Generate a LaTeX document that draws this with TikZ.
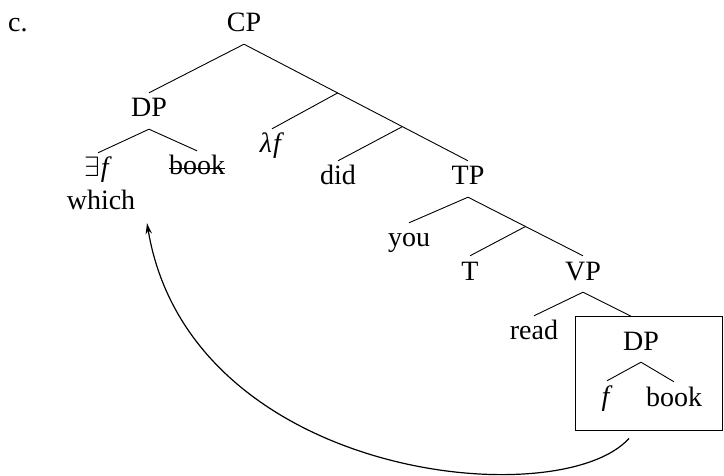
\RequirePackage{fix-cm}
\documentclass[tikz,border=0pt]{standalone}
\usepackage{fontspec}
\setmainfont{Liberation Serif}
\usetikzlibrary{arrows.meta}
\begin{document}
\begin{tikzpicture}[x=1pt,y=-1pt,
  tn/.style={inner sep=0pt, text height=18pt, text depth=0pt, anchor=base,
             font=\fontsize{28}{33}\selectfont},
  br/.style={line width=0.9pt},
  mv/.style={line width=1.2pt, -{Stealth[length=11pt,width=6.5pt]}}
]
\useasboundingbox (0,0) rectangle (724,476);
% labels
\node[tn, anchor=base west] (lab) at (8,32) {c.};
\node[tn] (CP) at (244,32) {CP};
\node[tn] (DP1) at (149,117) {DP};
\node[tn] (ex) at (98,177) {$\exists$\kern1pt\textit{f}};
\node[tn] (bk1) at (197,175) {book};
\node[tn] (wh) at (101,210) {which};
\node[tn] (lf) at (272,153) {\textit{λ\kern1pt f}};
\node[tn] (did) at (338,185) {did};
\node[tn] (TP) at (468,185) {TP};
\node[tn] (you) at (409,247) {you};
\node[tn] (T) at (470,280) {T};
\node[tn] (VP) at (583,280) {VP};
\node[tn] (read) at (534,340) {read};
\node[draw, line width=0.8pt, inner sep=0pt, minimum width=147pt, minimum height=114pt] (box) at (649,373) {};
\node[tn] (DP2) at (641,350) {DP};
\node[tn] (f) at (607,405) {\textit{f}};
\node[tn] (bk2) at (674,406) {book};
% junctions
\path ([yshift=-12pt]CP.south) -- ([yshift=6pt]TP.north)
  coordinate[pos=0.418] (j1) coordinate[pos=0.707] (j2);
\path ([yshift=-12pt]TP.south) -- ([yshift=6pt]VP.north)
  coordinate[pos=0.5] (j3);
% branches
\draw[br] ([yshift=-12pt]CP.south) -- ([yshift=6pt]DP1.north);
\draw[br] ([yshift=-12pt]CP.south) -- ([yshift=6pt]TP.north);
\draw[br] (j1) -- ([yshift=6pt]lf.north);
\draw[br] (j2) -- ([yshift=6pt]did.north);
\draw[br] ([yshift=-12pt]DP1.south) -- ([yshift=6pt]ex.north);
\draw[br] ([yshift=-12pt]DP1.south) -- ([yshift=6pt]bk1.north);
\draw[br] ([yshift=-12pt]TP.south) -- ([yshift=6pt]you.north);
\draw[br] ([yshift=-12pt]TP.south) -- ([yshift=6pt]VP.north);
\draw[br] (j3) -- ([yshift=6pt]T.north);
\draw[br] ([yshift=-12pt]VP.south) -- ([yshift=6pt]read.north);
\draw[br] ([yshift=-12pt]VP.south) -- ++(48,24);
\draw[br] ([yshift=-12pt]DP2.south) -- ([yshift=6pt]f.north);
\draw[br] ([yshift=-12pt]DP2.south) -- ([yshift=6pt]bk2.north);
% strike-through
\draw[line width=0.9pt] ([yshift=7pt]bk1.base west) -- ([yshift=7pt]bk1.base east);
% movement arrow
\draw[mv] ([xshift=-20pt,yshift=-8pt]box.south) .. controls +(-69,77) and +(43,257) .. ([xshift=46pt,yshift=-13pt]wh.south);
\end{tikzpicture}
\end{document}
